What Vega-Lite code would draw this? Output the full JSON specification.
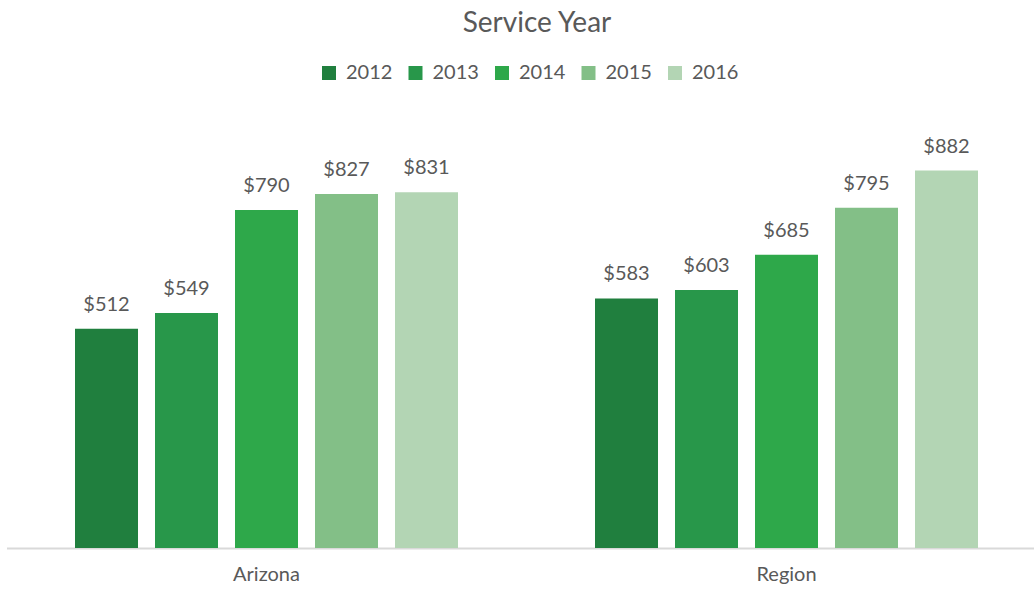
{
  "$schema": "https://vega.github.io/schema/vega-lite/v6.json",
  "width": 1027,
  "height": 428,
  "autosize": "none",
  "padding": {"left": 6.5, "top": 120, "right": 0, "bottom": 46},
  "background": "white",
  "config": {"view": {"stroke": null}, "font": "Lato"},
  "title": {"text": "Service Year", "fontSize": 28, "font": "Lato", "fontWeight": "normal", "color": "#595959", "anchor": "middle", "dx": 17, "offset": 25},
  "data": {"values": [
    {"group": "Arizona", "year": "2012", "value": 512},
    {"group": "Arizona", "year": "2013", "value": 549},
    {"group": "Arizona", "year": "2014", "value": 790},
    {"group": "Arizona", "year": "2015", "value": 827},
    {"group": "Arizona", "year": "2016", "value": 831},
    {"group": "Region", "year": "2012", "value": 583},
    {"group": "Region", "year": "2013", "value": 603},
    {"group": "Region", "year": "2014", "value": 685},
    {"group": "Region", "year": "2015", "value": 795},
    {"group": "Region", "year": "2016", "value": 882}
  ]},
  "encoding": {
    "x": {"field": "group", "type": "nominal", "sort": ["Arizona", "Region"],
      "scale": {"paddingInner": 0.2308, "paddingOuter": 0.1154, "range": [0, 1040]},
      "axis": {"title": null, "labelAngle": 0, "ticks": false, "domainColor": "#d9d9d9", "domainWidth": 2, "labelFontSize": 20, "labelColor": "#595959", "labelPadding": 16, "labelFont": "Lato"}},
    "xOffset": {"field": "year", "type": "nominal", "scale": {"paddingInner": 0.2125, "paddingOuter": 0.10625}},
    "y": {"field": "value", "type": "quantitative", "scale": {"domain": [0, 1000]}, "axis": null}
  },
  "layer": [
    {"mark": {"type": "bar"},
     "encoding": {"color": {"field": "year", "type": "nominal",
        "scale": {"domain": ["2012", "2013", "2014", "2015", "2016"], "range": ["#207f3e", "#28974a", "#2ea84a", "#83bf87", "#b3d5b4"]},
        "legend": {"title": null, "orient": "none", "legendX": 312.5, "legendY": -57, "direction": "horizontal", "symbolType": "square", "symbolSize": 196, "symbolStrokeWidth": 0, "labelFontSize": 20, "labelColor": "#595959", "labelFont": "Lato", "labelOffset": 7, "columnPadding": 12.5}}}},
    {"mark": {"type": "text", "baseline": "alphabetic", "dy": -18, "fontSize": 20, "color": "#595959", "font": "Lato"},
     "encoding": {"text": {"field": "value", "type": "quantitative", "format": "$,.0f"}}}
  ]
}
